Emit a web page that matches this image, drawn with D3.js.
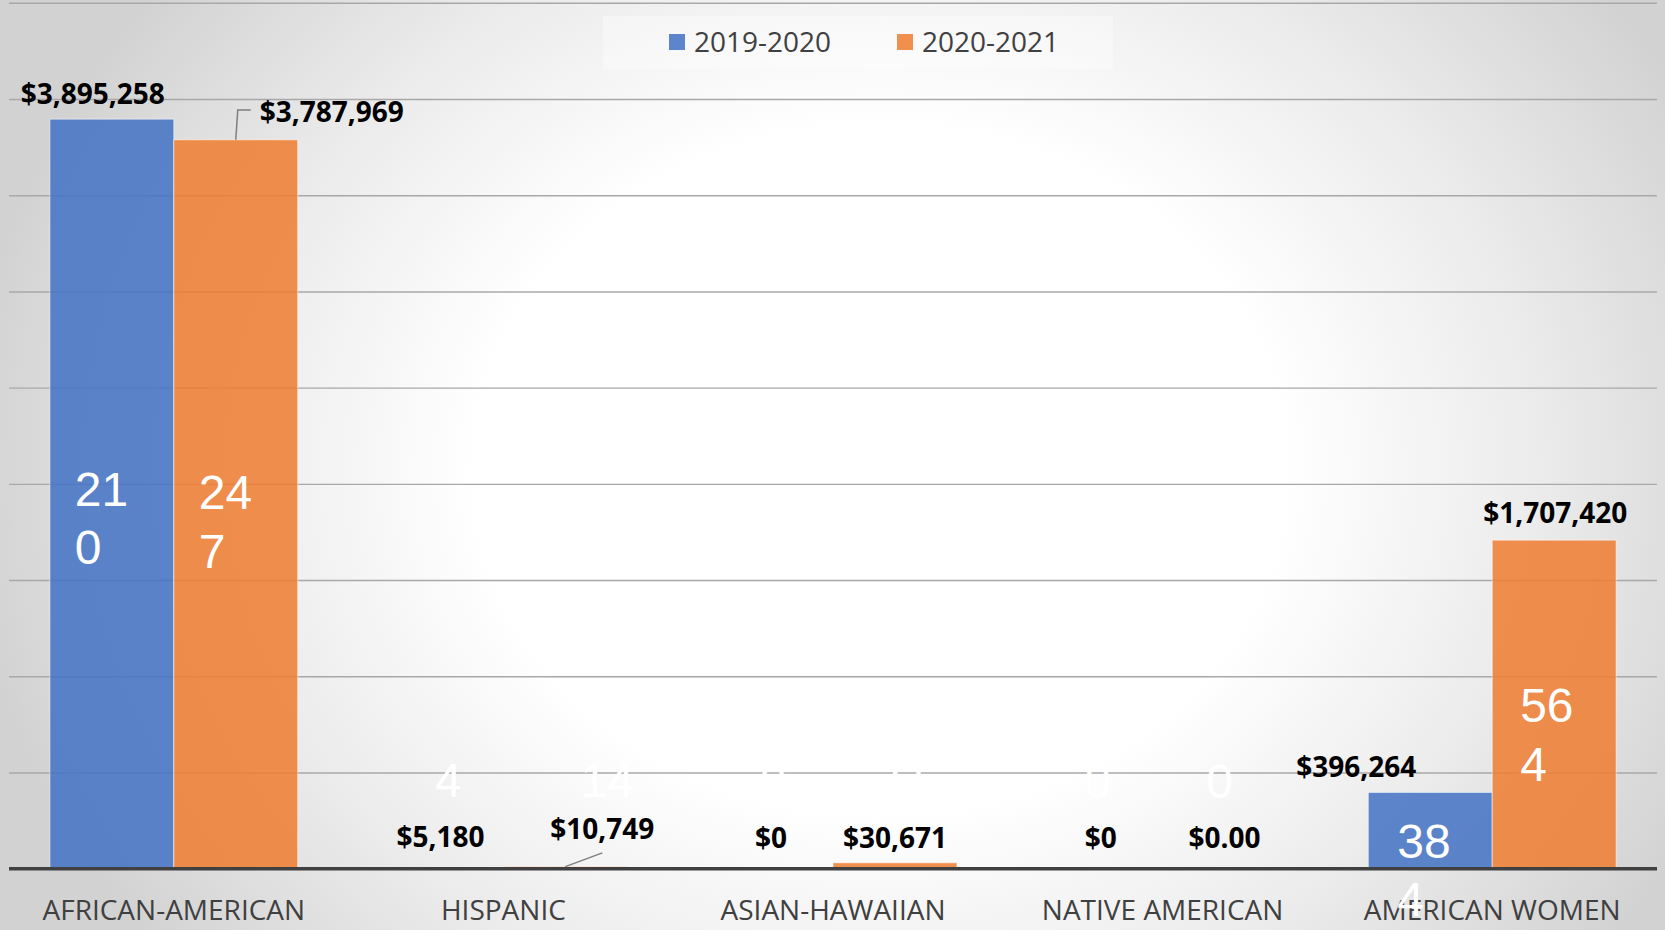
<!DOCTYPE html>
<html>
<head>
<meta charset="utf-8">
<script src="https://cdn.jsdelivr.net/npm/d3@7/dist/d3.min.js"></script>
<style>
  html, body { margin: 0; padding: 0; background: #fff; }
  svg { display: block; }
</style>
</head>
<body>
<svg id="chart" width="1665" height="930"></svg>
<script>
// ---- data ----
const categories = ["AFRICAN-AMERICAN", "HISPANIC", "ASIAN-HAWAIIAN", "NATIVE AMERICAN", "AMERICAN WOMEN"];
const seriesNames = ["2019-2020", "2020-2021"];
const dollars2019 = [3895258, 5180, 0, 0, 396264];
const dollars2020 = [3787969, 10749, 30671, 0, 1707420];
const decimals2019 = [0, 0, 0, 0, 0];
const decimals2020 = [0, 0, 0, 2, 0];
const counts2019 = [210, 4, 0, 0, 384];
const counts2020 = [247, 14, 11, 0, 564];
const yTicks = [500000, 1000000, 1500000, 2000000, 2500000, 3000000, 3500000, 4000000, 4500000];

// ---- label placement tweaks (pixels, relative to each bar) ----
// value label: [dx from bar centre, gap above bar top]
const valueNudge = [
  [[-19, 15], [-1, 21], [0, 20.5], [0, 20.5], [-74, 15.7]],
  [[96, 17.7], [37, 27.3], [0, 14.5], [0, 20.5], [1, 17.6]]
];
// count label: [dx from bar centre, baseline offset from bar middle]
const countNudge = [
  [[-37, 12], [7, -71], [2, -71], [-3, -71], [-33, 27]],
  [[-37, 5], [42, -71], [11, -71], [-5, -71], [-34, 18]]
];

const W = 1665, H = 930;
const colors = ["#4472C4", "#ED7D31"];
const svg = d3.select("#chart");

// background: soft radial glow
const defs = svg.append("defs");
const grad = defs.append("radialGradient")
  .attr("id", "bg")
  .attr("gradientUnits", "userSpaceOnUse")
  .attr("cx", 880).attr("cy", 470).attr("r", 920)
  .attr("gradientTransform", "translate(880,470) scale(1,0.85) translate(-880,-470)");
grad.append("stop").attr("offset", "0").attr("stop-color", "#ffffff");
grad.append("stop").attr("offset", "0.44").attr("stop-color", "#ffffff");
grad.append("stop").attr("offset", "0.72").attr("stop-color", "#ebebeb");
grad.append("stop").attr("offset", "1").attr("stop-color", "#d2d2d2");
svg.append("rect").attr("width", W).attr("height", H).attr("fill", "url(#bg)");

// scales
const x0 = d3.scaleBand().domain(categories).range([9, 1657]).paddingInner(0).paddingOuter(0);
const x1 = d3.scaleBand().domain(seriesNames).range([0, x0.bandwidth()]).paddingInner(0).paddingOuter(0.33);
const y = d3.scaleLinear().domain([0, 4500000]).range([868.7, 2.8]);

// gridlines
const grid = svg.append("g").attr("transform", "translate(9,0)")
  .call(d3.axisLeft(y).tickValues(yTicks).tickSize(-1648).tickFormat(""));
grid.select(".domain").remove();
grid.selectAll(".tick line").attr("stroke", "#a8a8a8").attr("stroke-width", 1.4);

// bars
const seriesData = [dollars2019, dollars2020];
const seriesDec = [decimals2019, decimals2020];
const seriesCounts = [counts2019, counts2020];

const rows = [];
categories.forEach((c, i) => {
  seriesNames.forEach((s, j) => {
    rows.push({ cat: c, i, s, j, v: seriesData[j][i], dec: seriesDec[j][i], n: seriesCounts[j][i] });
  });
});

const barCx = d => x0(d.cat) + x1(d.s) + x1.bandwidth() / 2;

svg.append("g").selectAll("rect").data(rows).join("rect")
  .attr("x", d => x0(d.cat) + x1(d.s))
  .attr("y", d => y(d.v))
  .attr("width", x1.bandwidth())
  .attr("height", d => y(0) - y(d.v))
  .attr("fill", d => colors[d.j])
  .attr("fill-opacity", 0.86)
  .attr("stroke", "#ffffff")
  .attr("stroke-opacity", d => d.v > 0 ? 0.55 : 0)
  .attr("stroke-width", 1);

// category axis
const xAxis = svg.append("g").attr("transform", `translate(0,${y(0)})`)
  .call(d3.axisBottom(x0).tickSize(0).tickPadding(0));
xAxis.select(".domain").remove();
xAxis.selectAll("text")
  .attr("y", 51).attr("dy", 0)
  .attr("font-family", "'Open Sans', sans-serif")
  .attr("font-size", 28)
  .attr("fill", "#404040");

svg.append("line")
  .attr("x1", 9).attr("x2", 1657)
  .attr("y1", y(0)).attr("y2", y(0))
  .attr("stroke", "#404040").attr("stroke-width", 3.5);

// value labels
const fmt = dec => d3.format("$,." + dec + "f");
const valueLabelPos = d => {
  const nd = valueNudge[d.j][d.i];
  return { x: barCx(d) + nd[0], y: y(d.v) - nd[1] };
};

svg.append("g").selectAll("text").data(rows).join("text")
  .attr("x", d => valueLabelPos(d).x)
  .attr("y", d => valueLabelPos(d).y)
  .attr("text-anchor", "middle")
  .attr("font-family", "'Open Sans', sans-serif")
  .attr("font-weight", 700)
  .attr("font-size", 28)
  .attr("fill", "#000")
  .text(d => fmt(d.dec)(d.v));

// leader lines for labels that were moved away from their bars
const leader = svg.append("g").attr("fill", "none").attr("stroke", "#7f7f7f").attr("stroke-width", 1.5);
{
  const d = rows.find(r => r.i === 0 && r.j === 1);
  const p = valueLabelPos(d);
  const bx = barCx(d);
  leader.append("path").attr("d", d3.line()([[bx, y(d.v)], [bx + 2, p.y - 12], [bx + 15, p.y - 12]]));
}
{
  const d = rows.find(r => r.i === 1 && r.j === 1);
  const p = valueLabelPos(d);
  leader.append("path").attr("d", d3.line()([[barCx(d), y(d.v)], [p.x, p.y + 13.5]]));
}

// count labels (white, wrapped after two digits)
const countG = svg.append("g")
  .attr("font-family", "'Liberation Sans', Arial, sans-serif")
  .attr("font-size", 48)
  .attr("fill", "#ffffff");

rows.forEach(d => {
  const nd = countNudge[d.j][d.i];
  const cx = barCx(d) + nd[0];
  const midY = (y(d.v) + y(0)) / 2 + nd[1];
  const str = String(d.n);
  const t = countG.append("text").attr("y", midY);
  if (str.length > 2) {
    t.attr("x", cx).attr("text-anchor", "start");
    t.append("tspan").attr("x", cx).attr("y", midY).text(str.slice(0, 2));
    t.append("tspan").attr("x", cx).attr("y", midY + 58.4).text(str.slice(2));
  } else {
    t.attr("x", cx).attr("text-anchor", "middle").text(str);
  }
});

// legend
const lg = svg.append("g");
lg.append("rect").attr("x", 603).attr("y", 16).attr("width", 510).attr("height", 53)
  .attr("fill", "#ffffff").attr("fill-opacity", 0.35);
const legendX = [669, 897];
seriesNames.forEach((s, j) => {
  lg.append("rect").attr("x", legendX[j]).attr("y", 34).attr("width", 16).attr("height", 16)
    .attr("fill", colors[j]).attr("fill-opacity", 0.86);
  lg.append("text").attr("x", legendX[j] + 25).attr("y", 52)
    .attr("font-family", "'Open Sans', sans-serif").attr("font-size", 28)
    .attr("fill", "#404040").text(s);
});
</script>
</body>
</html>
